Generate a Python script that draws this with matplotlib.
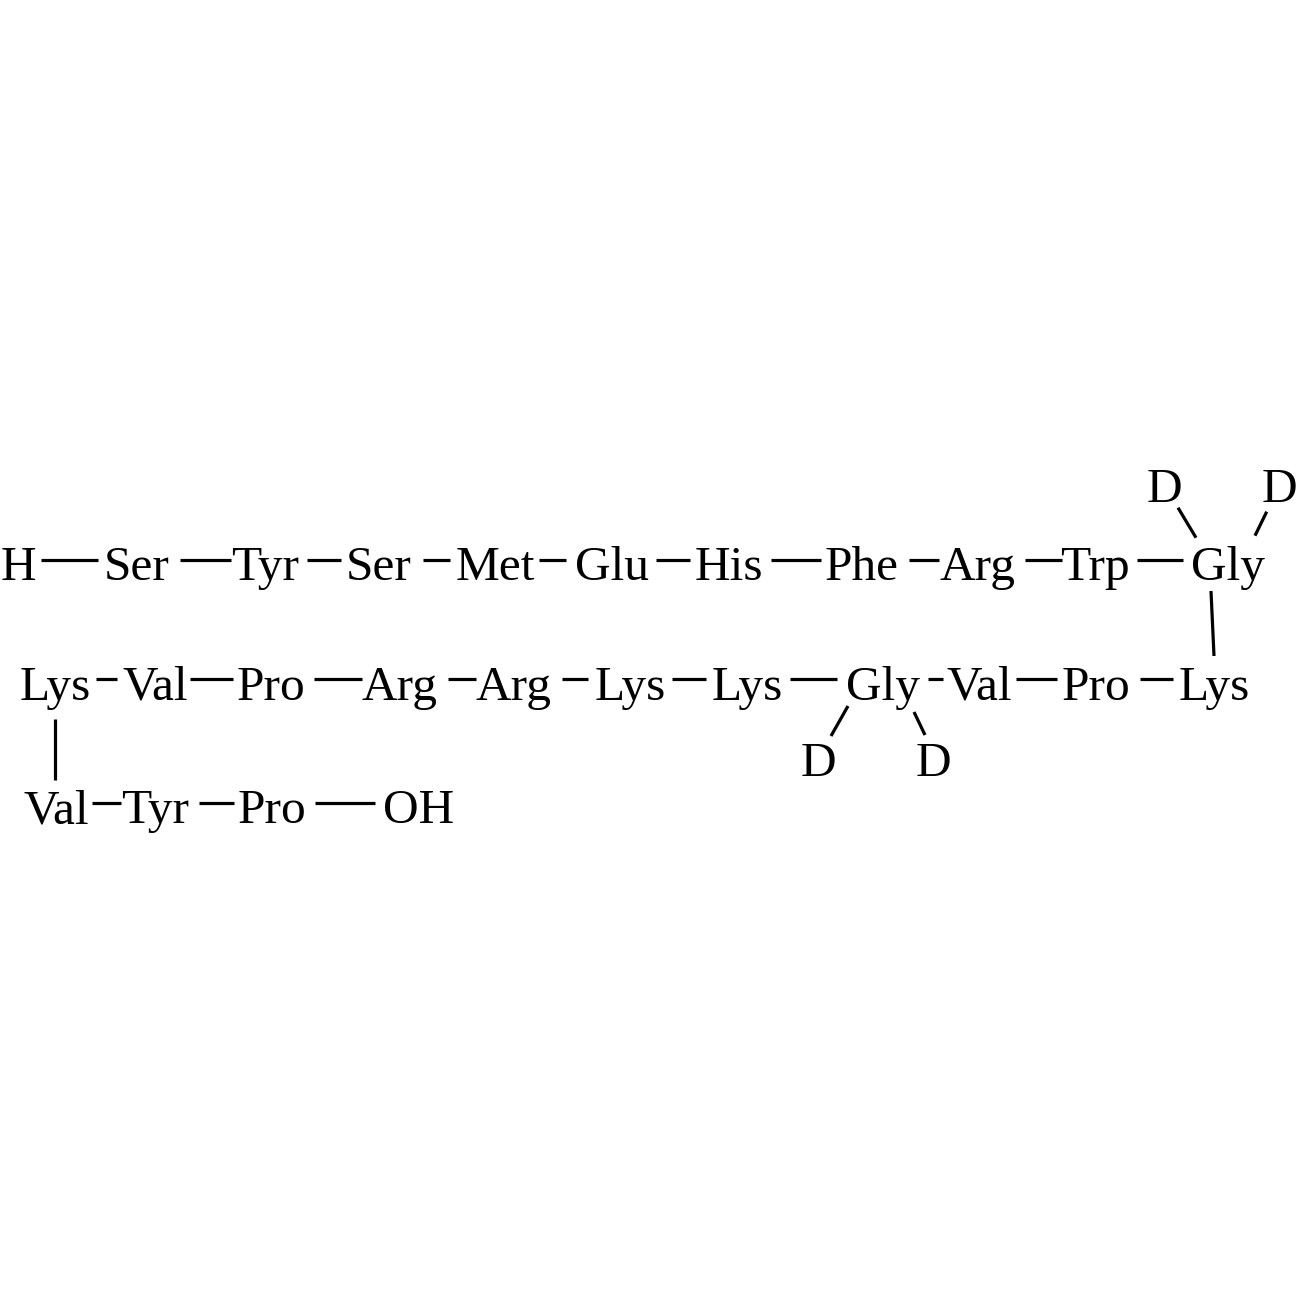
import matplotlib
matplotlib.use('Agg')
import matplotlib.pyplot as plt

W = 1297
row1_labels = ['H','Ser','Tyr','Ser','Met','Glu','His','Phe','Arg','Trp','Gly']
row1_x = [18,137,265,379,495,612,729,862,978,1095,1228]
row1_y = 580
row2_labels = ['Lys','Val','Pro','Arg','Arg','Lys','Lys','Gly','Val','Pro','Lys']
row2_x = [55,155,271,400,514,630,747,883,979,1096,1214]
row2_y = 699.5
row3_labels = ['Val','Tyr','Pro','OH']
row3_x = [56,155,272,419]
row3_y = 823
d_labels = ['D','D','D','D']
d_x = [1164,1279,818,933]
d_y = [501.5,501.5,776.5,776.5]
bonds = [
 (41,559.7,98,559.7),(180,559.7,230.5,559.7),(307,559.7,340.5,559.7),(423,559.7,450,559.7),(539,559.7,566,559.7),
 (656,559.7,690,559.7),(771,559.7,821,559.7),(909,559.7,939,559.7),(1025,559.7,1062,559.7),(1137,559.7,1182.7,559.7),
 (1178,507.7,1196,537.7),(1266.7,511.7,1255,535.7),(1211,591,1214,656),
 (96,679,117,679),(190,679,233,679),(314,679,362,679),(448,679,476,679),(562,679,588,679),
 (671.5,679,706,679),(790,679,837,679),(928,679,943,679),(1016,679,1057,679),(1140,679,1173,679),
 (848,706,831,736),(914,712,925,735),(55,719,55,780),
 (92,803,121,803),(199,803,234,803),(315,803,375,803),
]

fig = plt.figure(figsize=(W/100,W/100),dpi=100)
ax = fig.add_axes([0,0,1,1])
ax.set_xlim(0,W); ax.set_ylim(W,0); ax.axis('off')
fp = dict(family='Liberation Serif',fontsize=35.6,ha='center',va='baseline',color='black')
for labs,xs,y in [(row1_labels,row1_x,row1_y),(row2_labels,row2_x,row2_y),(row3_labels,row3_x,row3_y)]:
    for l,x in zip(labs,xs):
        ax.text(x,y,l,**fp)
for l,x,y in zip(d_labels,d_x,d_y):
    ax.text(x,y,l,**fp)
for x0,y0,x1,y1 in bonds:
    ax.plot([x0,x1],[y0,y1],color='black',lw=2.3,solid_capstyle='butt')
fig.savefig('out.png',dpi=100)
